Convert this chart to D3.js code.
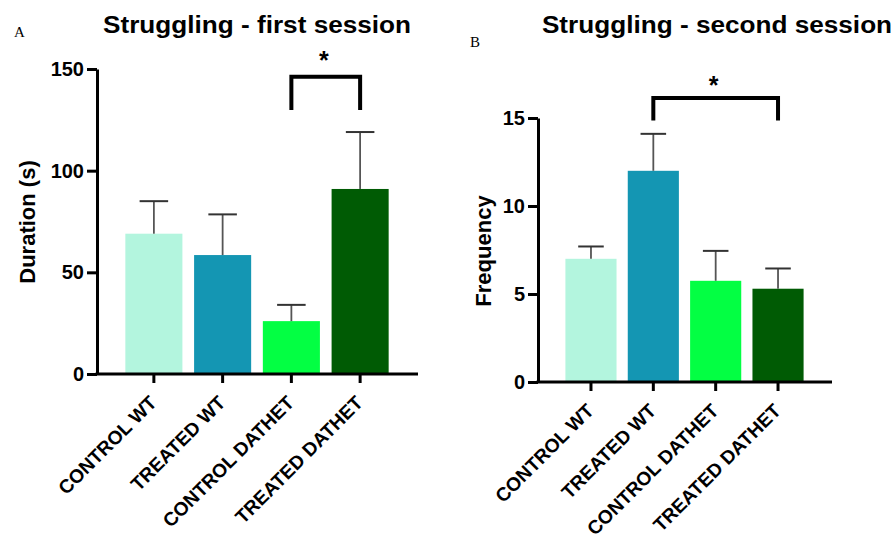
<!DOCTYPE html>
<html>
<head>
<meta charset="utf-8">
<script src="https://cdn.jsdelivr.net/npm/d3@7"></script>
<style>
  body { margin: 0; background: #fff; }
  svg { display: block; }
  text { font-family: "Liberation Sans", Arial, sans-serif; }
</style>
</head>
<body>
<script>
// groups and colours, same for both panels
const groups = ['CONTROL WT', 'TREATED WT', 'CONTROL DATHET', 'TREATED DATHET']
const colors = ['#b3f5de', '#1496b3', '#03ff43', '#005b04']

// panel A - duration, first session
const durationMean = [69, 58.5, 26, 91]
const durationErr = [16, 20, 8, 28]
const durationTicks = [0, 50, 100, 150]

// panel B - frequency, second session
const frequencyMean = [7, 12, 5.75, 5.3]
const frequencyErr = [0.7, 2.1, 1.7, 1.15]
const frequencyTicks = [0, 5, 10, 15]

const width = 891
const height = 541

const svg = d3.select('body')
    .append('svg')
    .attr('width', width)
    .attr('height', height)

function drawPanel(p) {
    let yScale = d3.scaleLinear()
        .domain([0, p.yMax])
        .range([p.y0, p.y1])
    let xScale = d3.scaleBand()
        .domain(groups)
        .range(p.xRange)
        .paddingInner(p.pad)
        .paddingOuter(p.pad / 2)

    let g = svg.append('g')

    // bars
    g.selectAll('.bar')
        .data(p.means)
        .enter().append('rect')
        .attr('x', (d, i) => xScale(groups[i]))
        .attr('y', d => yScale(d))
        .attr('width', xScale.bandwidth())
        .attr('height', d => p.y0 - yScale(d))
        .attr('fill', (d, i) => colors[i])

    // error bars (upper only)
    let capW = xScale.bandwidth() * 0.5
    p.means.forEach((m, i) => {
        let cx = xScale(groups[i]) + xScale.bandwidth() / 2
        g.append('line')
            .attr('x1', cx).attr('x2', cx)
            .attr('y1', yScale(m)).attr('y2', yScale(m + p.errs[i]))
            .attr('stroke', '#555').attr('stroke-width', 1.8)
        g.append('line')
            .attr('x1', cx - capW / 2).attr('x2', cx + capW / 2)
            .attr('y1', yScale(m + p.errs[i])).attr('y2', yScale(m + p.errs[i]))
            .attr('stroke', '#333').attr('stroke-width', 2)
    })

    // y axis
    let y_axis = d3.axisLeft(yScale)
        .tickValues(p.ticks)
        .tickSize(10)
        .tickSizeOuter(0)
        .tickPadding(3)
    let ya = g.append('g')
        .attr('transform', 'translate(' + p.axisX + ',0)')
        .call(y_axis)
    ya.selectAll('path, line').attr('stroke', '#000').attr('stroke-width', 3)
    ya.selectAll('text')
        .attr('fill', '#000')
        .style('font-size', '20px')
        .style('font-weight', 'bold')

    // x axis, labels turned 45 degrees
    let x_axis = d3.axisBottom(xScale)
        .tickSize(9)
        .tickSizeOuter(0)
    let xa = g.append('g')
        .attr('transform', 'translate(0,' + p.y0 + ')')
        .call(x_axis)
    xa.select('.domain').remove()
    xa.selectAll('line').attr('stroke', '#000').attr('stroke-width', 3)
    xa.selectAll('text')
        .attr('fill', '#000')
        .style('font-size', '19.2px')
        .style('font-weight', 'bold')
        .attr('text-anchor', 'end')
        .attr('x', 0).attr('y', 0).attr('dy', 0)
        .attr('transform', 'translate(4,30) rotate(-45)')
    g.append('line')
        .attr('x1', p.axisX - 1.5).attr('x2', p.xEnd)
        .attr('y1', p.y0).attr('y2', p.y0)
        .attr('stroke', '#000').attr('stroke-width', 3)

    // significance bracket
    let bx1 = xScale(groups[p.pair[0]]) + xScale.bandwidth() / 2
    let bx2 = xScale(groups[p.pair[1]]) + xScale.bandwidth() / 2
    let top = yScale(p.bracket[1])
    let bottom = yScale(p.bracket[0])
    g.append('path')
        .attr('d', d3.line()([[bx1, bottom], [bx1, top], [bx2, top], [bx2, bottom]]))
        .attr('fill', 'none')
        .attr('stroke', '#000')
        .attr('stroke-width', 4)
    g.append('text')
        .attr('x', (bx1 + bx2) / 2 - 2)
        .attr('y', top - p.starGap)
        .attr('text-anchor', 'middle')
        .style('font-size', '25px')
        .style('font-weight', 'bold')
        .text('*')

    // titles and labels
    g.append('text')
        .attr('transform', 'translate(' + p.titleX + ',33) scale(1.09,1)')
        .attr('text-anchor', 'middle')
        .style('font-size', '24px')
        .style('font-weight', 'bold')
        .text(p.title)
    g.append('text')
        .attr('x', p.letterPos[0]).attr('y', p.letterPos[1])
        .style('font-family', '"Liberation Serif", "Times New Roman", serif')
        .style('font-size', '15px')
        .text(p.letter)
    g.append('text')
        .attr('transform', 'translate(' + p.yLabelPos[0] + ',' + p.yLabelPos[1] + ') rotate(-90)')
        .attr('text-anchor', 'middle')
        .attr('dy', '0.35em')
        .style('font-size', '22px')
        .style('font-weight', 'bold')
        .text(p.yLabel)
}

drawPanel({
    means: durationMean, errs: durationErr, ticks: durationTicks, yMax: 150,
    y0: 374, y1: 69, axisX: 97, xEnd: 418, xRange: [119.5, 394.5], pad: 0.17,
    pair: [2, 3], bracket: [129.8, 146.2], starGap: 8,
    title: 'Struggling - first session', titleX: 257,
    letter: 'A', letterPos: [14, 37],
    yLabel: 'Duration (s)', yLabelPos: [27, 222]
})

drawPanel({
    means: frequencyMean, errs: frequencyErr, ticks: frequencyTicks, yMax: 15,
    y0: 382, y1: 118, axisX: 538, xEnd: 832, xRange: [559.8, 809.2], pad: 0.18,
    pair: [1, 3], bracket: [14.86, 16.14], starGap: 4,
    title: 'Struggling - second session', titleX: 717,
    letter: 'B', letterPos: [470, 47],
    yLabel: 'Frequency', yLabelPos: [483, 251]
})
</script>
</body>
</html>
